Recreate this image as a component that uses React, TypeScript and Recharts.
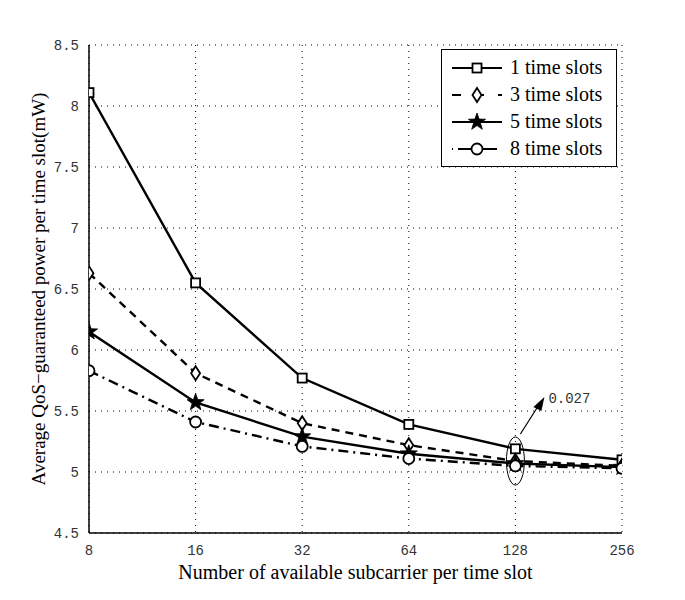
import React from "react";
import {
  LineChart, Line, XAxis, YAxis, CartesianGrid, Label, ReferenceDot,
} from "recharts";

const SUBCARRIERS = [8, 16, 32, 64, 128, 256];
const SLOTS_1 = [8.11, 6.55, 5.77, 5.39, 5.19, 5.10];
const SLOTS_3 = [6.63, 5.81, 5.40, 5.22, 5.09, 5.05];
const SLOTS_5 = [6.15, 5.57, 5.29, 5.15, 5.07, 5.04];
const SLOTS_8 = [5.83, 5.41, 5.21, 5.11, 5.05, 5.03];
const Y_TICKS = [4.5, 5, 5.5, 6, 6.5, 7, 7.5, 8, 8.5];

const data = SUBCARRIERS.map((n, i) => ({
  n, s1: SLOTS_1[i], s3: SLOTS_3[i], s5: SLOTS_5[i], s8: SLOTS_8[i],
}));

const MONO = "'Liberation Mono', 'DejaVu Sans Mono', monospace";
const SERIF = "'Liberation Serif', 'DejaVu Serif', serif";

function Square({ cx, cy }: any) {
  return <rect x={cx - 4.5} y={cy - 4.5} width={9} height={9} fill="#fff" stroke="#000" strokeWidth={1.8} />;
}
function Diamond({ cx, cy }: any) {
  return <polygon points={`${cx},${cy - 7} ${cx + 4.5},${cy} ${cx},${cy + 7} ${cx - 4.5},${cy}`} fill="#fff" stroke="#000" strokeWidth={1.8} />;
}
function Star({ cx, cy }: any) {
  const pts: string[] = [];
  for (let k = 0; k < 10; k++) {
    const r = k % 2 === 0 ? 9 : 3.6;
    const a = -Math.PI / 2 + (k * Math.PI) / 5;
    pts.push(`${cx + r * Math.cos(a)},${cy + r * Math.sin(a)}`);
  }
  return <polygon points={pts.join(" ")} fill="#000" stroke="#000" strokeWidth={0.8} />;
}
function Circle({ cx, cy }: any) {
  return <circle cx={cx} cy={cy} r={5.5} fill="#fff" stroke="#000" strokeWidth={1.8} />;
}

const SERIES = [
  { key: "s1", name: "1 time slots", dash: undefined, legendDash: undefined, Marker: Square },
  { key: "s3", name: "3 time slots", dash: "8 6", legendDash: "9 14", Marker: Diamond },
  { key: "s5", name: "5 time slots", dash: undefined, legendDash: undefined, Marker: Star },
  { key: "s8", name: "8 time slots", dash: "10 5 2 5", legendDash: "1 5 14 5", Marker: Circle },
];

function LegendBox() {
  return (
    <div style={{
      position: "absolute", left: 441, top: 49, width: 176, border: "1.5px solid #000",
      background: "#fff", padding: "4px 0", boxSizing: "border-box",
    }}>
      {SERIES.map((s) => (
        <div key={s.key} style={{ display: "flex", alignItems: "center", height: 27 }}>
          <svg width={62} height={20} style={{ marginLeft: 6 }}>
            <line x1={4} y1={10} x2={54} y2={10} stroke="#000" strokeWidth={2.2} strokeDasharray={s.legendDash} />
            <s.Marker cx={29} cy={10} />
          </svg>
          <span style={{ fontFamily: SERIF, fontSize: 20, color: "#000" }}>{s.name}</span>
        </div>
      ))}
    </div>
  );
}

function Annotation({ cx, cy }: any) {
  return (
    <g>
      <ellipse cx={cx} cy={cy} rx={9} ry={24} fill="none" stroke="#000" strokeWidth={1} />
      <line x1={cx + 5} y1={cy - 27} x2={cx + 26} y2={cy - 60} stroke="#000" strokeWidth={1.2} />
      <polygon points={`${cx + 29},${cy - 64} ${cx + 18},${cy - 54} ${cx + 26},${cy - 50}`} fill="#000" />
      <text x={cx + 33} y={cy - 58} fontFamily={MONO} fontSize={14} fill="#333">0.027</text>
    </g>
  );
}

export default function App() {
  return (
    <div style={{ position: "absolute", left: 0, top: 0, width: 685, height: 600, background: "#fff" }}>
      <LineChart width={685} height={600} data={data} margin={{ top: 45, right: 63, left: 0, bottom: 0 }}>
        <CartesianGrid stroke="#000" strokeDasharray="1 5" strokeWidth={1} />
        <XAxis
          dataKey="n" type="number" scale="log" domain={[8, 256]} ticks={SUBCARRIERS}
          allowDataOverflow height={67} tickLine={false}
          axisLine={{ stroke: "#000", strokeWidth: 1.5 }}
          tick={{ fontFamily: MONO, fontSize: 14, fill: "#333" }} tickMargin={6}
        >
          <Label
            content={({ viewBox }: any) => (
              <text x={viewBox.x + viewBox.width / 2} y={viewBox.y + 46} textAnchor="middle"
                fontFamily={SERIF} fontSize={20} fill="#000">
                Number of available subcarrier per time slot
              </text>
            )}
          />
        </XAxis>
        <XAxis xAxisId="top" orientation="top" dataKey="n" type="number" scale="log" domain={[8, 256]}
          height={0} tick={false} tickLine={false} axisLine={{ stroke: "#000", strokeWidth: 1.5 }} />
        <YAxis
          type="number" domain={[4.5, 8.5]} ticks={Y_TICKS} width={89} tickLine={false}
          axisLine={{ stroke: "#000", strokeWidth: 1.5 }}
          tick={{ fontFamily: MONO, fontSize: 14, fill: "#333" }} tickMargin={4}
        >
          <Label
            content={({ viewBox }: any) => (
              <text x={38} y={viewBox.y + viewBox.height / 2} textAnchor="middle"
                transform={`rotate(-90 38 ${viewBox.y + viewBox.height / 2})`}
                fontFamily={SERIF} fontSize={19} fill="#000" dominantBaseline="central">
                Average QoS−guaranteed power per time slot(mW)
              </text>
            )}
          />
        </YAxis>
        <YAxis yAxisId="right" orientation="right" domain={[4.5, 8.5]} width={0} tick={false}
          tickLine={false} axisLine={{ stroke: "#000", strokeWidth: 1.5 }} />
        {SERIES.map((s) => (
          <Line
            key={s.key} dataKey={s.key} name={s.name} type="linear"
            stroke="#000" strokeWidth={2.4} strokeDasharray={s.dash}
            dot={(p: any) => <s.Marker key={`${s.key}-${p.index}`} cx={p.cx} cy={p.cy} />}
            activeDot={false} isAnimationActive={false}
          />
        ))}
        <ReferenceDot x={128} y={5.09} shape={(p: any) => <Annotation cx={p.cx} cy={p.cy} />} />
      </LineChart>
      <LegendBox />
    </div>
  );
}
